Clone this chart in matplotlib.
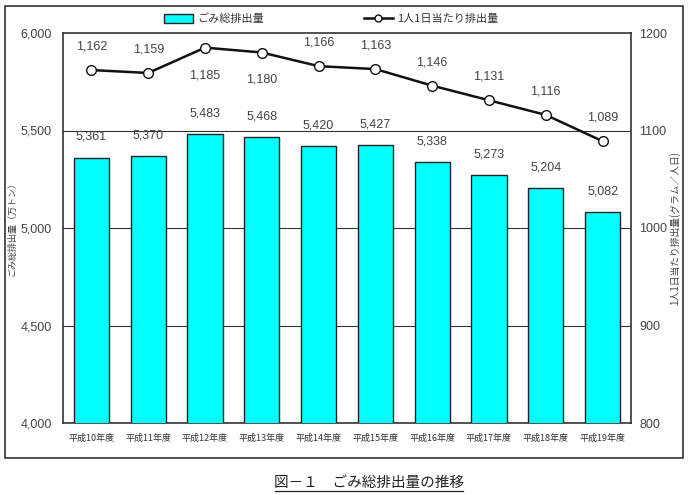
import matplotlib
matplotlib.use("Agg")
import matplotlib.pyplot as plt
from matplotlib.patches import Rectangle
from matplotlib.lines import Line2D

plt.rcParams['font.family'] = ['Noto Sans CJK JP', 'DejaVu Sans']

categories = ["平成10年度", "平成11年度", "平成12年度", "平成13年度", "平成14年度",
              "平成15年度", "平成16年度", "平成17年度", "平成18年度", "平成19年度"]
total = [5361, 5370, 5483, 5468, 5420, 5427, 5338, 5273, 5204, 5082]
per_person = [1162, 1159, 1185, 1180, 1166, 1163, 1146, 1131, 1116, 1089]
line_label_below = [False, False, True, True, False, False, False, False, False, False]
left_ticks = [4000, 4500, 5000, 5500, 6000]
right_ticks = [800, 900, 1000, 1100, 1200]

W, H = 690, 495
NUMFONT = ['Liberation Sans', 'DejaVu Sans']
fig = plt.figure(figsize=(6.9, 4.95), dpi=100)
fig.patch.set_facecolor('white')

# outer frame
fig.add_artist(Rectangle((5 / W, 1 - 458 / H), (683 - 5) / W, (458 - 6) / H,
                         transform=fig.transFigure, fill=False, edgecolor='#333333', lw=1.2))

ax = fig.add_axes([63 / W, 1 - 423 / H, (631 - 63) / W, (423 - 33) / H])
ax2 = ax.twinx()

x = list(range(len(categories)))
ax.bar(x, total, width=0.62, color='#00FFFF', edgecolor='#222222', lw=1.0, zorder=3,
       label='ごみ総排出量')
ax.set_ylim(4000, 6000)
ax.set_xlim(-0.5, len(categories) - 0.5)
ax.set_yticks(left_ticks)
ax.set_yticklabels([f"{v:,}" for v in left_ticks], color='#444444', fontsize=9,
                   family=NUMFONT)
ax.set_xticks(x)
ax.set_xticklabels(categories, fontsize=6.5, color='#333333')
ax.tick_params(axis='x', length=0, pad=8)
ax.tick_params(axis='y', length=0, pad=8)
for v in [4500, 5000, 5500]:
    ax.axhline(v, color='#333333', lw=0.8, zorder=1)
for s in ax.spines.values():
    s.set_color('#333333')
    s.set_linewidth(1.2)

for xi, v in zip(x, total):
    ax.text(xi, v + 75, f"{v:,}", ha='center', va='bottom', fontsize=9, color='#444444',
            family=NUMFONT, zorder=5)

ax2.plot(x, per_person, color='#111111', lw=1.8, marker='o', markersize=7,
         markerfacecolor='white', markeredgecolor='#111111', markeredgewidth=1.0,
         zorder=6, label='1人1日当たり排出量')
ax2.set_ylim(800, 1200)
ax2.set_yticks(right_ticks)
ax2.set_yticklabels([str(v) for v in right_ticks], color='#444444', fontsize=9,
                    family=NUMFONT)
ax2.tick_params(axis='y', length=0, pad=6)
for s in ax2.spines.values():
    s.set_visible(False)

for xi, v, below in zip(x, per_person, line_label_below):
    if below:
        ax2.text(xi, v - 22, f"{v:,}", ha='center', va='top', fontsize=9, color='#444444',
                 family=NUMFONT)
    else:
        ax2.text(xi, v + 18, f"{v:,}", ha='center', va='bottom', fontsize=9, color='#444444',
                 family=NUMFONT)

fig.text(12 / W, 1 - 226 / H, "ごみ総排出量（万トン）", rotation=90, ha='center', va='center',
         fontsize=6.5, color='#444444')
fig.text(675 / W, 1 - 228 / H, "1人1日当たり排出量(グラム／人日)", rotation=90, ha='center',
         va='center', fontsize=7, color='#444444')

# legend
handles = [Rectangle((0, 0), 1, 1, facecolor='#00FFFF', edgecolor='#222222', lw=1.0),
           Line2D([0], [0], color='#111111', lw=1.8, marker='o', markersize=5,
                  markerfacecolor='white', markeredgecolor='#111111')]
fig.legend(handles, ['ごみ総排出量', '1人1日当たり排出量'], loc='center',
           bbox_to_anchor=(331 / W, 1 - 19 / H), ncol=2, frameon=False, fontsize=8,
           columnspacing=9.0, handlelength=2.6, handleheight=0.8, handletextpad=0.4,
           labelcolor='#333333')

# caption
fig.text(369 / W, 1 - 487 / H, "図－１　ごみ総排出量の推移", ha='center', va='baseline',
         fontsize=10.5, color='#222222')
fig.add_artist(Line2D([275 / W, 463 / W], [1 - 491 / H, 1 - 491 / H],
                      transform=fig.transFigure, color='#222222', lw=0.9))

fig.savefig("out.png", dpi=100)
